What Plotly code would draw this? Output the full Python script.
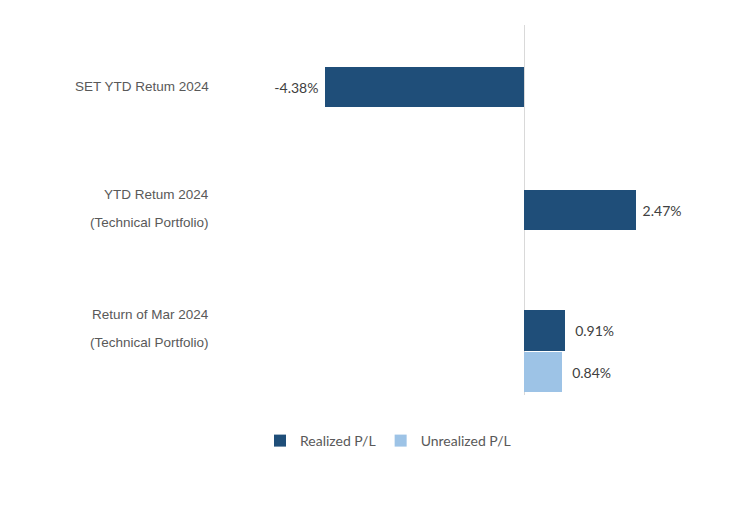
import plotly.graph_objects as go

categories = ["SET YTD Return 2024", "YTD Return 2024 (Technical Portfolio)", "Return of Mar 2024 (Technical Portfolio)"]
category_lines = [["SET YTD Retum 2024"], ["YTD Retum 2024", "(Technical Portfolio)"], ["Return of Mar 2024", "(Technical Portfolio)"]]
realized = [-4.38, 2.47, 0.91]
unrealized_cat = ["Return of Mar 2024 (Technical Portfolio)"]
unrealized = [0.84]

DARK = "#1F4E79"
LIGHT = "#9DC3E6"
TXT = "#595959"
NB = "\u00a0"


def lab(v, n):
    s = f"{v:.2f}%"
    return s + NB * n if v < 0 else NB * n + s


# page has an 8px body margin; figure is sized/positioned to compensate
W, H = 728, 503
L, R, T, B = 210, 36, 17, 116
ZERO_X = 524 - 8
PX_PER_UNIT = 45.4
plot_w = W - L - R

fig = go.Figure()
fig.add_trace(go.Bar(
    y=categories, x=realized, orientation="h", name="Realized P/L",
    marker=dict(color=DARK, line=dict(width=0)),
    width=[0.325, 0.325, 0.333], offset=[-0.163, -0.163, -0.187],
    text=[lab(v, n) for v, n in zip(realized, [1, 1, 2])], textposition="outside",
    textfont=dict(family="Lato", size=14, color="#404040"), cliponaxis=False,
))
fig.add_trace(go.Bar(
    y=unrealized_cat, x=unrealized, orientation="h", name="Unrealized P/L",
    marker=dict(color=LIGHT, line=dict(width=0)),
    width=[0.325], offset=[0.154],
    text=[lab(v, 2) for v in unrealized], textposition="outside",
    textfont=dict(family="Lato", size=14, color="#404040"), cliponaxis=False,
))

shifts = [[0], [16, -12], [19, -9]]
for cat, lines, sh in zip(categories, category_lines, shifts):
    for line, s in zip(lines, sh):
        fig.add_annotation(
            x=0, xref="paper", xanchor="right", xshift=-7,
            y=cat, yref="y", yshift=s, yanchor="middle",
            text=line, showarrow=False,
            font=dict(family="Liberation Sans", size=13.5, color=TXT),
        )

x0 = (L - ZERO_X) / PX_PER_UNIT
x1 = (L + plot_w - ZERO_X) / PX_PER_UNIT

fig.update_layout(
    width=W, height=H,
    margin=dict(l=L, r=R, t=T, b=B),
    paper_bgcolor="white", plot_bgcolor="white",
    barmode="overlay",
    bargap=0,
    showlegend=True,
    legend=dict(orientation="h", xref="container", yref="container",
                x=(388 - 8) / W, y=1 - (441 - 8) / H, xanchor="center", yanchor="middle",
                font=dict(family="Lato", size=14, color=TXT),
                itemwidth=30, traceorder="normal"),
    xaxis=dict(range=[x0, x1],
               showgrid=False, showticklabels=False, ticks="",
               zeroline=True, zerolinecolor="#D9D9D9", zerolinewidth=1,
               showline=False, fixedrange=True),
    yaxis=dict(categoryorder="array", categoryarray=categories,
               range=[2.5, -0.5], showticklabels=False, ticks="",
               showgrid=False, zeroline=False, showline=False),
)

fig.write_html("out.html")
